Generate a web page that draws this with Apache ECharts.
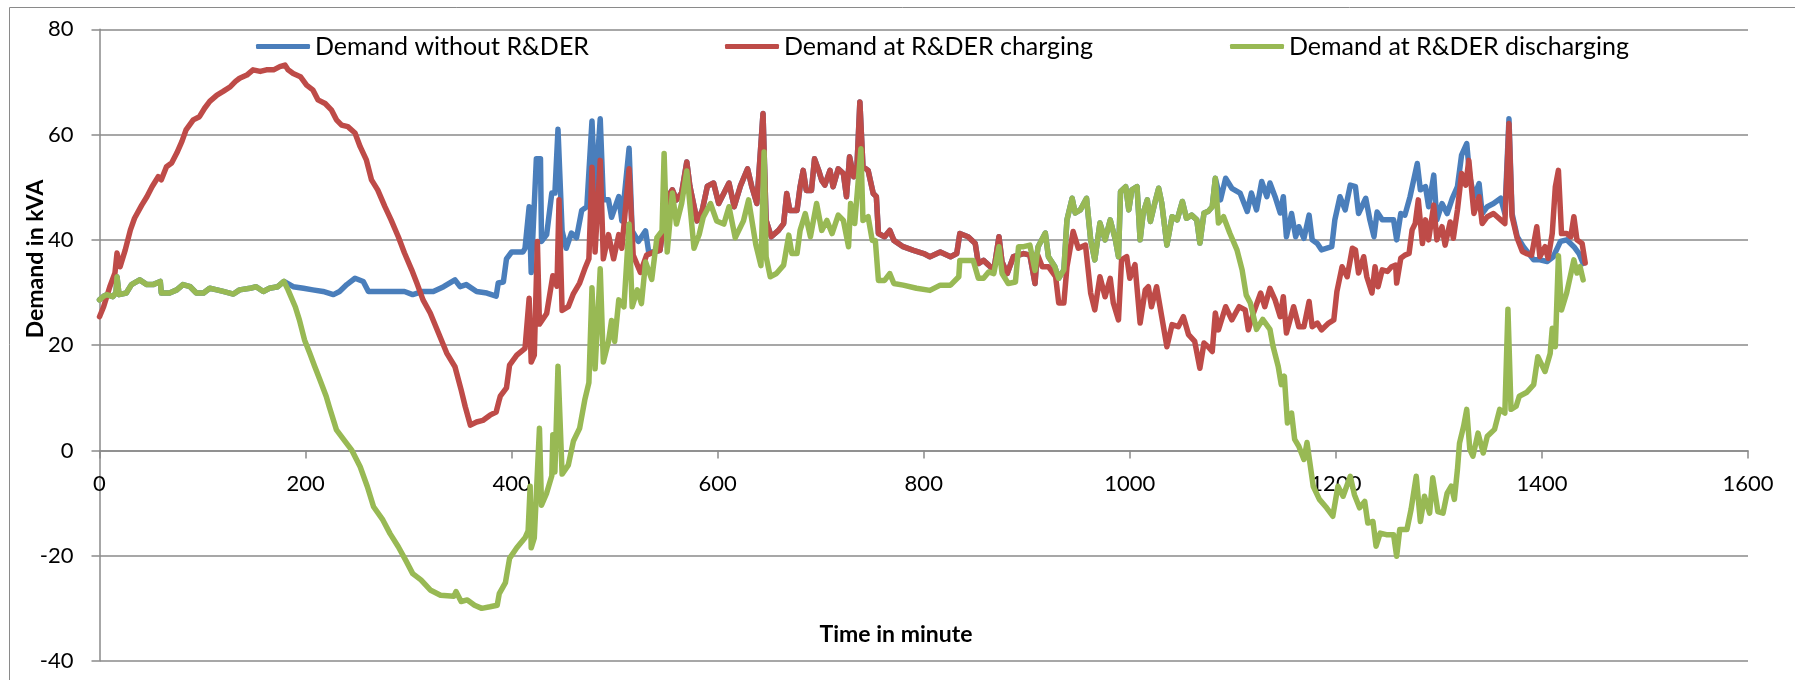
<!DOCTYPE html>
<html>
<head>
<meta charset="utf-8">
<title>Demand in kVA</title>
<script src="https://cdn.jsdelivr.net/npm/echarts@6/dist/echarts.min.js"></script>
<style>
  html, body { margin: 0; padding: 0; background: #fff; }
  #chart { width: 1795px; height: 680px; }
</style>
</head>
<body>
<div id="chart"></div>
<script>
// [minute, kVA]
const discharging = [
  [0,28.6],[4,29.3],[7,29.6],[13,29.2],[16,30],[17,33],[19,29.6],[26,29.9],[31,31.5],[39,32.4],
  [46,31.5],[52,31.5],[59,32.1],[60,29.9],[68,29.9],[75,30.5],[81,31.5],[88,31.1],[94,29.9],[101,29.9],
  [107,30.8],[114,30.5],[120,30.2],[130,29.7],[136,30.5],[146,30.8],[152,31.1],[159,30.2],[165,30.8],[173,31.1],
  [179,32.1],[183,30.5],[190,27.3],[194,24.8],[199,21],[204,18.5],[209,15.9],[214,13.4],[220,10.3],[223,8.3],
  [230,3.9],[238,1.8],[245,0],[253,-3.1],[260,-6.9],[266,-10.7],[275,-13.2],[282,-15.8],[290,-18.3],[297,-20.8],
  [304,-23.4],[312,-24.6],[321,-26.5],[331,-27.5],[344,-27.7],[346,-26.8],[351,-28.7],[357,-28.4],[364,-29.4],[371,-30],
  [379,-29.7],[386,-29.4],[388,-27.2],[394,-25.1],[398,-20.5],[405,-18.5],[413,-16.6],[416,-15.3],[418,-6.8],[419,-18.5],
  [422,-16.6],[427,4.2],[429,-10.4],[434,-8.1],[439,-4.8],[440,3],[442,-4.1],[445,16],[449,-4.5],[455,-2.8],
  [460,1.8],[466,4.2],[471,9.6],[475,12.9],[478,30.9],[481,15.5],[486,34.5],[489,16.8],[494,20.7],[497,24.7],
  [500,20.7],[504,28.6],[509,27.3],[514,43],[517,27.3],[522,30.5],[526,27.9],[530,35.8],[536,32.5],[541,40.4],
  [546,41.7],[548,56.4],[551,37.7],[556,48.9],[560,43],[565,46.9],[570,53.1],[577,38.4],[582,41],[586,44.3],
  [593,46.9],[599,43.6],[606,43],[611,46.3],[617,40.4],[625,43.6],[630,47.6],[637,39.1],[642,35.1],[645,56.7],
  [647,36.8],[651,33],[657,33.6],[664,35.2],[669,40.9],[672,37.4],[677,37.4],[680,41.8],[685,45],[690,40.6],
  [696,46.9],[701,41.8],[706,43.7],[711,41.2],[717,44.7],[722,43.7],[727,38.7],[729,46.9],[733,43.1],[739,57.3],
  [741,43.7],[746,44.4],[750,39.9],[753,39.9],[756,32.3],[762,32.3],[767,33.6],[771,31.7],[780,31.4],[793,30.8],
  [806,30.4],[816,31.4],[826,31.4],[834,33],[835,36.1],[848,36.1],[853,32.7],[858,32.7],[863,33.9],[868,33.6],
  [873,38.7],[876,33.6],[882,31.7],[889,32],[892,38.7],[897,38.7],[903,39],[908,34.2],[911,38.7],[918,41.3],
  [921,36.8],[927,35],[931,32.7],[936,34.3],[939,43.8],[944,47.9],[947,45.1],[952,45.7],[958,47.9],[962,40],
  [966,36.2],[971,43.2],[976,40],[981,43.8],[986,40],[989,36.8],[991,49.2],[996,50.1],[999,45.7],[1002,49.5],
  [1007,50.1],[1010,40],[1013,45.1],[1017,47.6],[1020,43.5],[1025,47.6],[1028,49.8],[1031,47],[1036,39],[1041,44.4],
  [1046,43.8],[1051,47.3],[1055,44.1],[1060,44.7],[1065,43.8],[1068,39.4],[1072,45.1],[1076,45.4],[1080,46.3],[1083,51.7],
  [1086,43.2],[1091,44.4],[1097,41.3],[1104,38.1],[1109,34.3],[1113,29.5],[1117,28],[1123,23],[1129,24.9],[1136,23],
  [1139,19.8],[1144,16],[1147,12.5],[1150,14.1],[1153,5.2],[1157,7.1],[1160,2.1],[1164,0.8],[1169,-1.7],[1172,1.5],
  [1178,-6.8],[1184,-9.3],[1191,-10.9],[1197,-12.5],[1202,-6.8],[1207,-8.7],[1214,-4.9],[1218,-8.4],[1223,-10.9],[1228,-9.7],
  [1231,-13.8],[1236,-13.5],[1239,-18.2],[1243,-15.7],[1249,-16],[1256,-16],[1259,-20.1],[1262,-15],[1269,-15],[1273,-11.2],
  [1278,-4.9],[1282,-13.5],[1286,-8.7],[1291,-11.9],[1294,-5.2],[1299,-11.6],[1304,-11.9],[1308,-8.1],[1312,-6.8],[1315,-9.3],
  [1318,-3.6],[1320,1.4],[1324,4.6],[1327,7.8],[1330,0.2],[1333,-1.1],[1338,3.3],[1343,-0.5],[1347,2.7],[1354,4],
  [1359,7.8],[1364,7.1],[1367,26.8],[1370,7.8],[1375,8.4],[1378,10.3],[1385,11],[1392,12.5],[1396,17.8],[1403,15],
  [1408,18.4],[1410,23.2],[1413,19.7],[1416,37],[1419,26.7],[1424,29.9],[1431,36.2],[1434,33.7],[1437,34.9],[1440,32.4]
];

const charging = [
  [0,25.4],[4,27.3],[10,31.1],[15,33.7],[17,37.5],[20,34.9],[25,38.1],[30,41.9],[34,44.1],[41,46.6],
  [46,48.2],[51,50.1],[57,52],[60,51.4],[65,53.9],[70,54.6],[75,56.5],[80,58.7],[84,60.9],[91,62.8],
  [97,63.4],[102,65],[107,66.3],[114,67.5],[120,68.2],[127,69.1],[132,70.1],[136,70.7],[143,71.3],[149,72.3],
  [156,72],[162,72.3],[169,72.3],[175,72.9],[180,73.2],[183,72.3],[188,71.6],[195,71],[201,69.4],[207,68.5],
  [212,66.6],[219,65.9],[225,64.7],[230,62.8],[235,61.8],[241,61.5],[248,60.3],[253,57.7],[259,55.2],[264,51.4],
  [270,49.5],[277,46.3],[283,43.8],[290,40.6],[296,37.5],[303,34.3],[308,31.8],[314,28.6],[321,26.1],[329,22.3],
  [337,18.5],[345,15.9],[351,11.5],[355,8.3],[360,4.8],[366,5.4],[372,5.7],[379,6.7],[385,7.3],[388,9.6],
  [389,10.3],[395,11.9],[398,16.2],[405,18.1],[413,19.4],[417,28.9],[419,16.8],[422,18.1],[425,39.7],[427,24],
  [434,26],[440,33.2],[444,31.2],[446,47.6],[449,26.6],[455,27.3],[460,29.8],[466,31.8],[471,34.5],[475,36.4],
  [478,53.8],[481,37.7],[486,55.1],[489,36.4],[494,41],[499,36.4],[504,41],[507,38.4],[514,53.5],[518,37.1],
  [525,33.8],[531,37.1],[538,37.7],[544,38],[551,48],[556,49.5],[560,47.6],[565,48.9],[570,54.8],[573,50.2],
  [580,43.6],[585,45.6],[590,50.2],[596,50.8],[601,46.9],[611,50.8],[616,46.3],[622,50.2],[629,53.5],[633,50.2],
  [638,46.9],[644,64],[647,43.7],[652,40.6],[659,41.8],[664,43.1],[667,48.8],[670,45.6],[677,45.6],[680,50.1],
  [683,53.2],[686,49.4],[691,49.4],[694,55.4],[698,53.2],[701,51.3],[704,50.4],[709,53.2],[712,50.1],[717,53.5],
  [722,52.6],[725,48.2],[728,55.8],[732,52],[735,53.2],[738,66.2],[741,53.9],[746,53.2],[751,48.8],[754,48.2],
  [756,41.2],[762,40.6],[767,41.8],[771,39.9],[780,38.7],[790,38],[800,37.4],[806,36.8],[816,37.7],[826,36.8],
  [832,37.4],[835,41.2],[843,40.6],[850,39.3],[853,35.5],[858,36.1],[863,35.2],[868,34.2],[873,40.6],[876,35.8],
  [881,33.6],[887,36.8],[897,37.4],[903,37.1],[908,31.7],[910,37.4],[915,34.9],[921,34.9],[928,33],[931,28],
  [936,28],[939,34.9],[945,41.6],[950,38.4],[957,39],[962,29.9],[966,26.7],[971,33],[976,29.2],[981,32.7],
  [984,28],[989,24.8],[992,36.2],[997,36.8],[1000,32.7],[1005,35.3],[1010,24.2],[1015,30.5],[1018,31.1],[1021,27.3],
  [1026,31.1],[1031,25.4],[1036,19.7],[1041,23.9],[1047,23.5],[1052,25.4],[1057,22],[1063,20.7],[1068,15.6],[1072,20.4],
  [1076,19.7],[1080,18.8],[1083,26.1],[1086,22.9],[1093,27.3],[1099,24.8],[1106,27.3],[1112,26.7],[1115,22.9],[1120,26.1],
  [1127,29.9],[1131,27.3],[1136,30.8],[1141,28.6],[1146,25.4],[1149,29.2],[1152,22.3],[1159,27.3],[1164,23.5],[1169,23.5],
  [1174,28.3],[1177,23.5],[1182,24.2],[1186,22.9],[1193,24.2],[1198,24.8],[1201,30.2],[1206,34.9],[1211,33],[1216,38.4],
  [1219,38.1],[1222,33.7],[1227,36.8],[1230,33],[1235,29.9],[1238,34.9],[1241,31.1],[1245,34.3],[1250,34],[1254,34.9],
  [1258,35.2],[1259,31.8],[1263,36.5],[1267,37.1],[1271,37.4],[1274,41.9],[1277,43.1],[1280,47.6],[1284,39.3],[1287,43.8],
  [1290,40],[1295,46.6],[1298,40],[1303,42.5],[1306,39],[1311,43.4],[1314,40.3],[1318,45.7],[1322,52.6],[1326,50.4],
  [1329,55.1],[1334,45],[1339,48.2],[1342,43.1],[1347,44.4],[1353,45],[1360,43.8],[1364,43.1],[1368,62.1],[1371,44.4],
  [1376,40.3],[1381,37.8],[1385,37.4],[1390,37.1],[1395,42.5],[1398,36.8],[1403,38.7],[1406,36.5],[1410,41.2],[1413,50.1],
  [1416,53.2],[1419,41.2],[1424,41.2],[1428,40.6],[1431,44.4],[1434,40],[1439,39.3],[1442,35.6]
];

// demand without R&DER, only where it is not covered by the other two lines
const baseMorning = [
  [180,32.1],[188,31.1],[198,30.8],[207,30.5],[217,30.2],[227,29.6],[233,30.2],[240,31.5],[248,32.7],[256,32.1],
  [261,30.2],[272,30.2],[285,30.2],[296,30.2],[304,29.6],[314,30.2],[324,30.2],[334,31.1],[345,32.4],[350,31.1],
  [356,31.5],[366,30.2],[376,29.9],[385,29.3],[387,31.8],[392,32],[395,36.4],[400,37.7],[411,37.7],[413,38.4],
  [417,46.3],[419,33.8],[424,55.4],[428,55.4],[429,39.7],[434,41],[439,48.9],[442,48.9],[445,61],[449,41.7],
  [453,38.4],[458,41.3],[463,40.4],[468,45.6],[473,46.3],[478,62.6],[481,48.2],[486,63],[489,47.6],[494,47.6],
  [497,44.3],[504,48.2],[507,43.6],[514,57.4],[517,41.7],[523,39.7],[530,41.7],[533,37.7]
];
const baseEvening = [
  [1083,51.7],[1088,47.6],[1093,51.7],[1099,49.8],[1107,48.9],[1114,45.4],[1118,48.9],[1123,45.7],[1128,51.1],[1133,48.2],
  [1136,50.8],[1141,48.2],[1146,45.1],[1149,48.2],[1152,40.6],[1157,45],[1161,40.6],[1164,42.5],[1169,40.3],[1174,44.7],
  [1177,40],[1182,39.3],[1186,38.1],[1196,38.7],[1199,43.8],[1204,48.2],[1209,45.7],[1214,50.4],[1219,50.1],[1222,45],
  [1229,47.9],[1233,43.8],[1237,40.6],[1240,45.3],[1245,43.8],[1256,43.8],[1259,40],[1263,45],[1267,44.7],[1272,48.2],
  [1279,54.5],[1282,49.5],[1287,50.1],[1290,46.3],[1295,52.3],[1298,43.8],[1303,46.9],[1308,45],[1313,47.9],[1318,50.1],
  [1322,56.1],[1327,58.3],[1330,52],[1334,48.2],[1339,50.7],[1342,45],[1347,46.3],[1353,46.9],[1360,47.9],[1364,45],
  [1368,63],[1371,45],[1376,40.6],[1382,38.7],[1392,36.2],[1398,36.2],[1405,35.9],[1411,36.8],[1418,39.7],[1424,40],
  [1431,38.7],[1436,37.4],[1440,35.5]
];

const xTicks = [0, 200, 400, 600, 800, 1000, 1200, 1400, 1600];
const yTicks = [-40, -20, 0, 20, 40, 60, 80];
const seriesNames = ['Demand without R&DER', 'Demand at R&DER charging', 'Demand at R&DER discharging'];
const seriesColors = ['#4A7EBB', '#BE4B48', '#98B954'];

// the base line runs under the green one early on and under red/green at midday
const withoutDer = [].concat(
  discharging.filter(p => p[0] < 180),
  baseMorning,
  charging.filter(p => p[0] >= 536 && p[0] <= 910),
  discharging.filter(p => p[0] > 910 && p[0] < 1083),
  baseEvening
);
const seriesData = [withoutDer, charging, discharging];

const FONT = 'Lato, "Liberation Sans", sans-serif';
const GREY = '#8a8a8a';

// plot box in px
const GRID = { left: 99.5, right: 47, top: 29.3, bottom: 19 };
const plotH = 680 - GRID.top - GRID.bottom;
const yMin = yTicks[0], yMax = yTicks[yTicks.length - 1];
// the time axis sits on the zero line, as in the original
const zeroOffset = -plotH * (0 - yMin) / (yMax - yMin);

const chart = echarts.init(document.getElementById('chart'), null, { renderer: 'canvas' });

const legendLeft = [256, 725, 1230];
const option = {
  animation: false,
  backgroundColor: '#fff',
  grid: {
    left: GRID.left, right: GRID.right, top: GRID.top, bottom: GRID.bottom,
    containLabel: false,
    outerBoundsMode: 'none'
  },
  legend: seriesNames.map((n, i) => ({
    data: [n],
    left: legendLeft[i],
    top: 34,
    padding: 0,
    icon: 'roundRect',
    itemWidth: 54,
    itemHeight: 5,
    selectedMode: false,
    textStyle: { fontFamily: FONT, fontSize: 25, color: '#000' }
  })),
  xAxis: {
    type: 'value',
    min: xTicks[0],
    max: xTicks[xTicks.length - 1],
    interval: xTicks[1] - xTicks[0],
    offset: zeroOffset,
    axisLine: { onZero: false, lineStyle: { color: GREY, width: 1.5 } },
    axisTick: { show: true, length: 8, inside: false, lineStyle: { color: GREY, width: 1.5 } },
    axisLabel: { margin: 22, fontFamily: FONT, fontSize: 22, color: '#000', formatter: v => String(v) },
    splitLine: { show: false }
  },
  yAxis: {
    type: 'value',
    min: yMin,
    max: yMax,
    interval: yTicks[1] - yTicks[0],
    axisLine: { show: true, onZero: false, lineStyle: { color: GREY, width: 1.5 } },
    axisTick: { show: true, length: 8, lineStyle: { color: GREY, width: 1.5 } },
    axisLabel: { margin: 26, fontFamily: FONT, fontSize: 22, color: '#000', formatter: v => String(v) },
    splitLine: { show: true, lineStyle: { color: GREY, width: 1.5 } }
  },
  graphic: [
    {
      type: 'rect', silent: true, z: -1,
      shape: { x: 9.5, y: 7.5, width: 1800, height: 700 },
      style: { fill: 'none', stroke: GREY, lineWidth: 1 }
    },
    {
      type: 'text', silent: true,
      x: 36, y: 259, rotation: Math.PI / 2,
      style: { text: 'Demand in kVA', font: 'bold 23px ' + FONT, fill: '#000', align: 'center', verticalAlign: 'middle' }
    },
    {
      type: 'text', silent: true,
      x: 896, y: 635,
      style: { text: 'Time in minute', font: 'bold 23px ' + FONT, fill: '#000', align: 'center', verticalAlign: 'middle' }
    }
  ],
  series: seriesNames.map((n, i) => ({
    name: n,
    type: 'line',
    data: seriesData[i],
    showSymbol: false,
    symbol: 'none',
    silent: true,
    color: seriesColors[i],
    lineStyle: { width: 5.5, color: seriesColors[i], cap: 'round', join: 'round' }
  }))
};

chart.setOption(option);
</script>
</body>
</html>
